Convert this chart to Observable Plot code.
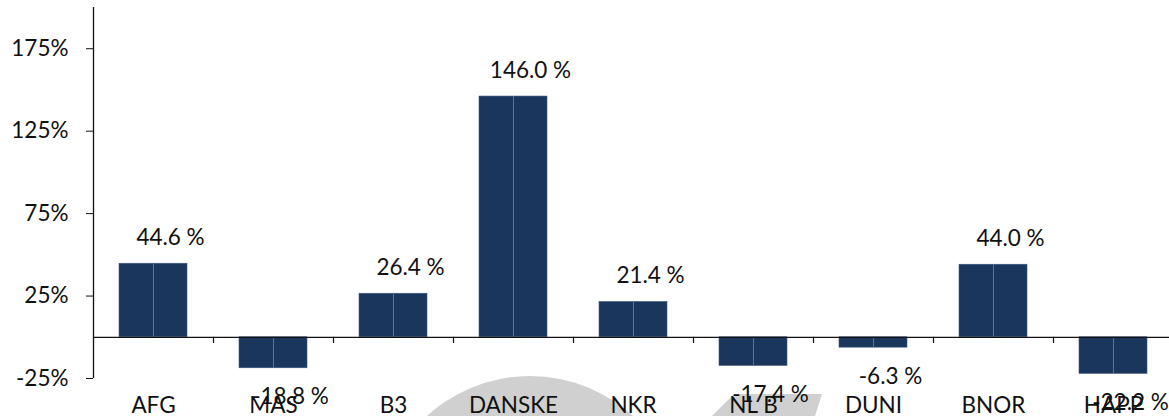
<!DOCTYPE html>
<html>
<head>
<meta charset="utf-8">
<script src="https://cdn.jsdelivr.net/npm/d3@7"></script>
<script src="https://cdn.jsdelivr.net/npm/@observablehq/plot@0.6"></script>
<style>
  html, body { margin: 0; padding: 0; background: white; }
  #wrap { position: relative; width: 1169px; height: 416px; overflow: hidden; }
  #wm { position: absolute; left: 0; top: 0; z-index: 0; }
  #chart { position: absolute; left: 0; top: 0; z-index: 1; }
</style>
</head>
<body>
<div id="wrap">
  <svg id="wm" width="1169" height="416">
    <circle cx="530" cy="529" r="153" fill="#d0d0d0"></circle>
    <polygon points="712,416 734,394 822,394 815,416" fill="#d0d0d0"></polygon>
  </svg>
  <div id="chart"></div>
</div>
<script>
const categories = ["AFG", "MAS", "B3", "DANSKE", "NKR", "NL B", "DUNI", "BNOR", "HAPP"];
const values = [44.6, -18.8, 26.4, 146.0, 21.4, -17.4, -6.3, 44.0, -22.2];
const yTicks = [-25, 25, 75, 125, 175];

const data = categories.map((c, i) => ({name: c, value: values[i]}));
const font = "Lato, 'Open Sans', sans-serif";
const bandHalf = 60;

const chart = Plot.plot({
  width: 1169,
  height: 416,
  marginTop: 7,
  marginBottom: 38,
  marginLeft: 93,
  marginRight: 0,
  style: {fontFamily: font, fontSize: "22.5px", color: "#111", background: "transparent", overflow: "visible"},
  x: {domain: categories, range: [93, 1173], paddingInner: 0.43, paddingOuter: 0.215, axis: null},
  y: {domain: [-25, 200], range: [378, 7], axis: null},
  marks: [
    Plot.axisY({ticks: yTicks, tickFormat: d => d + "%", tickSize: 7, tickPadding: 18, fontSize: 22.5, stroke: "#111", fill: "#111", anchor: "left", label: null}),
    Plot.ruleX([categories[0]], {x: d => d, y1: -25, y2: 200, dx: -bandHalf, stroke: "#111", strokeWidth: 1.3}),
    Plot.barY(data, {x: "name", y: "value", fill: "#1b365d", stroke: "#3f5a80", strokeWidth: 0.6}),
    Plot.ruleX(data, {x: "name", y1: 0, y2: "value", stroke: "#5a7396", strokeWidth: 1}),
    Plot.ruleY([0], {stroke: "#111", strokeWidth: 1.3}),
    Plot.ruleX(categories.slice(0, 8), {x: d => d, y1: 0, y2: -3.8, dx: bandHalf, stroke: "#111", strokeWidth: 1.2}),
    Plot.text(data, {x: "name", y: "value", text: d => d.value.toFixed(1) + " %", dx: 17, dy: -26, fill: "#111", fontSize: 22.5,
      filter: d => d.value >= 0, lineAnchor: "middle"}),
    Plot.text(data, {x: "name", y: "value", text: d => d.value.toFixed(1) + " %", dx: 17, dy: 29, fill: "#111", fontSize: 22.5,
      filter: d => d.value < 0, lineAnchor: "middle"}),
    Plot.text(data, {x: "name", y: -25, text: "name", dy: 27, fill: "#111", fontSize: 22.5, lineAnchor: "middle"})
  ]
});
document.getElementById("chart").appendChild(chart);
</script>
</body>
</html>
